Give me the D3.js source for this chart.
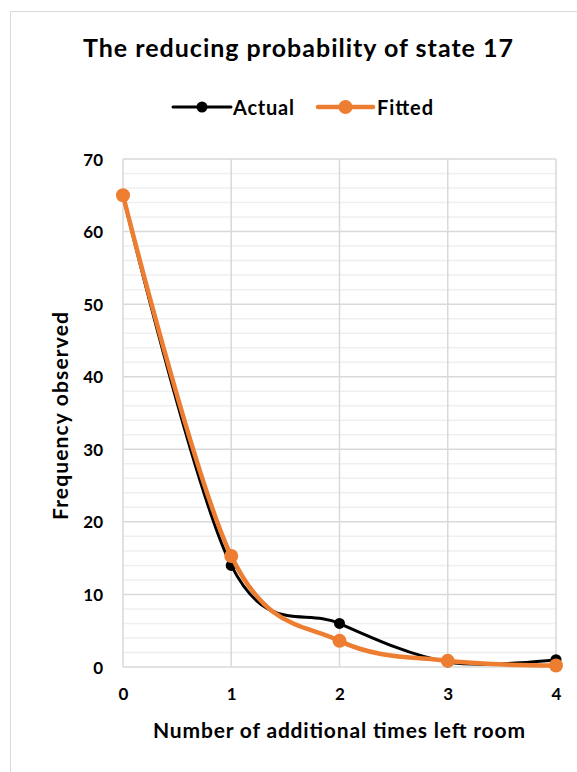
<!DOCTYPE html>
<html><head><meta charset="utf-8">
<script src="https://cdn.jsdelivr.net/npm/d3@7"></script>
<style>body{margin:0;background:#fff}</style>
</head><body><svg id="c" width="577" height="772"></svg>
<script>
const categories = [0, 1, 2, 3, 4];
const actual = [65, 14, 6, 0.7, 1.0];
const fitted = [65, 15.3, 3.6, 0.85, 0.2];
const yTicks = [0, 10, 20, 30, 40, 50, 60, 70];
const xTicks = [0, 1, 2, 3, 4];
const seriesNames = ["Actual", "Fitted"];

const svg = d3.select("#c");
const font = "Lato, 'Open Sans', sans-serif";
svg.append("rect").attr("x", 10.5).attr("y", 11.5).attr("width", 580).attr("height", 780)
  .attr("fill", "#fff").attr("stroke", "#d9d9d9");

const x = d3.scaleLinear().domain([0, 4]).range([123, 556]);
const y = d3.scaleLinear().domain([0, 70]).range([667, 159]);

// minor gridlines
svg.append("g").selectAll("line").data(d3.range(0, 71, 2).filter(v => v % 10 !== 0))
  .join("line").attr("x1", x(0)).attr("x2", x(4)).attr("y1", d => y(d)).attr("y2", d => y(d))
  .attr("stroke", "#efefef").attr("stroke-width", 1.5);
// major horizontal
svg.append("g").selectAll("line").data(yTicks)
  .join("line").attr("x1", x(0)).attr("x2", x(4)).attr("y1", d => y(d)).attr("y2", d => y(d))
  .attr("stroke", "#d9d9d9").attr("stroke-width", 1.5);
// vertical
svg.append("g").selectAll("line").data(xTicks)
  .join("line").attr("x1", d => x(d)).attr("x2", d => x(d)).attr("y1", y(0)).attr("y2", y(70))
  .attr("stroke", "#d9d9d9").attr("stroke-width", 1.5);

// axes labels via d3 axes
const ya = svg.append("g").attr("transform", `translate(${x(0) - 20},0)`)
  .call(d3.axisLeft(y).tickValues(yTicks).tickSize(0).tickPadding(0));
ya.select(".domain").remove();
ya.selectAll("text").attr("font-family", font).attr("font-weight", "bold").attr("font-size", 17).attr("fill", "#000").attr("dy", "0.36em");

const xa = svg.append("g").attr("transform", `translate(0,${y(0) + 21})`)
  .call(d3.axisBottom(x).tickValues(xTicks).tickFormat(d3.format("d")).tickSize(0).tickPadding(0));
xa.select(".domain").remove();
xa.selectAll("text").attr("font-family", font).attr("font-weight", "bold").attr("font-size", 17).attr("fill", "#000");

// titles
svg.append("text").attr("x", 83).attr("y", 57)
  .attr("font-family", font).attr("font-weight", "bold").attr("font-size", 25)
  .attr("textLength", 430).attr("lengthAdjust", "spacing").text("The reducing probability of state 17");
svg.append("text").attr("x", 153).attr("y", 738)
  .attr("font-family", font).attr("font-weight", "bold").attr("font-size", 21)
  .attr("textLength", 372).attr("lengthAdjust", "spacing").text("Number of additional times left room");
svg.append("text").attr("transform", `translate(68,520) rotate(-90)`)
  .attr("font-family", font).attr("font-weight", "bold").attr("font-size", 21)
  .attr("textLength", 208).attr("lengthAdjust", "spacing").text("Frequency observed");

const line = d3.line().x((d, i) => x(categories[i])).y(d => y(d)).curve(d3.curveCatmullRom.alpha(0));
const series = [
  {name: seriesNames[0], values: actual, color: "#000000", w: 3, r: 5.5, lx1: 173, lx2: 231, tx: 233, tl: 61},
  {name: seriesNames[1], values: fitted, color: "#ED7D31", w: 4.5, r: 7, lx1: 318, lx2: 373, tx: 377, tl: 56}
];
series.forEach(s => {
  svg.append("path").attr("d", line(s.values)).attr("fill", "none").attr("stroke", s.color)
    .attr("stroke-width", s.w).attr("stroke-linecap", "round");
  svg.append("g").selectAll("circle").data(s.values).join("circle")
    .attr("cx", (d, i) => x(categories[i])).attr("cy", d => y(d)).attr("r", s.r).attr("fill", s.color);
});

// legend
series.forEach(s => {
  svg.append("line").attr("x1", s.lx1).attr("x2", s.lx2).attr("y1", 107).attr("y2", 107)
    .attr("stroke", s.color).attr("stroke-width", s.w).attr("stroke-linecap", "round");
  svg.append("circle").attr("cx", (s.lx1 + s.lx2) / 2).attr("cy", 107).attr("r", s.r).attr("fill", s.color);
  svg.append("text").attr("x", s.tx).attr("y", 115).attr("font-family", font).attr("font-weight", "bold")
    .attr("font-size", 20).attr("textLength", s.tl).attr("lengthAdjust", "spacing").text(s.name);
});
</script></body></html>
